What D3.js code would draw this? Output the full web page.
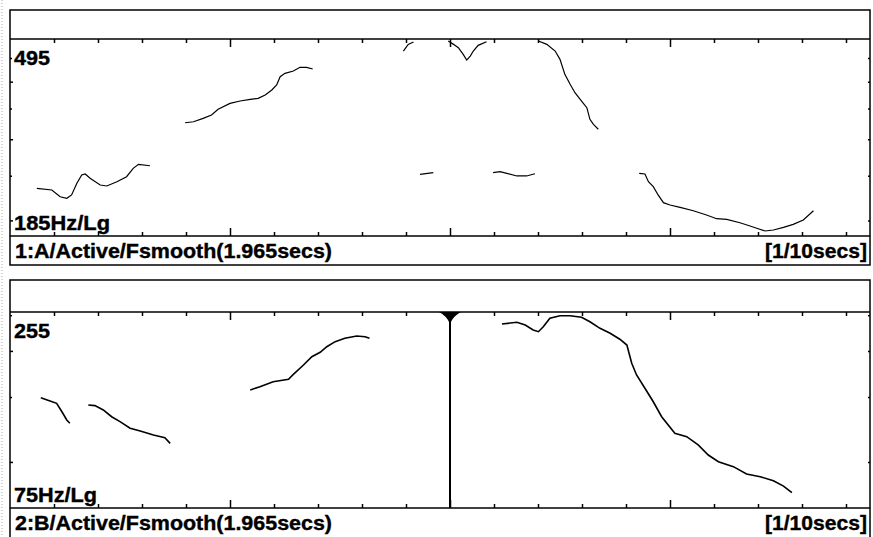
<!DOCTYPE html>
<html>
<head>
<meta charset="utf-8">
<script src="https://cdnjs.cloudflare.com/ajax/libs/d3/7.8.5/d3.min.js"></script>
<style>
body{margin:0;background:#fff;}
text{font-family:"Liberation Sans",Arial,sans-serif;font-weight:bold;fill:#000;stroke:#000;stroke-width:0.4;}
</style>
</head>
<body>
<svg id="my-svg"></svg>
<script>
// pitch tracks: [time in secs, Hz]
let duration = 1.965;
let timeTicks = [0.1,0.2,0.3,0.4,0.5,0.6,0.7,0.8,0.9,1.0,1.1,1.2,1.3,1.4,1.5,1.6,1.7,1.8,1.9];
let timeMajor = [0.5, 1.0, 1.5];
let cursorTime = 1.0;

let hzTicksA = [200, 250, 300, 350, 400, 450];
let hzTicksB = [100, 150, 200, 250];

let trackA1 = [[0.061,234.8],[0.095,232.8],[0.114,225.1],[0.129,223.3],[0.140,227.1],[0.152,240.7],[0.163,250.9],[0.171,252.2],[0.182,246.8],[0.205,238.7],[0.220,237.5],[0.243,242.6],[0.265,248.8],[0.280,259.4],[0.292,264.7],[0.318,262.8]];
let trackA2 = [[0.398,325.8],[0.417,327.4],[0.439,333.0],[0.458,338.6],[0.473,348.4],[0.500,358.9],[0.523,363.1],[0.546,366.2],[0.564,368.0],[0.580,374.2],[0.595,383.6],[0.606,393.3],[0.614,409.9],[0.625,417.0],[0.644,421.8],[0.659,429.7],[0.674,429.7],[0.688,426.1]];
let trackA3 = [[0.894,466.1],[0.905,481.9],[0.917,487.5]];
let trackA4 = [[0.996,490.0],[1.008,481.9],[1.019,473.9],[1.030,458.5],[1.038,445.6],[1.046,454.6],[1.053,466.1],[1.064,479.6],[1.083,488.3]];
let trackA5 = [[1.201,490.0],[1.220,481.9],[1.239,466.1],[1.250,447.2],[1.261,414.9],[1.273,394.7],[1.284,378.5],[1.299,363.1],[1.311,351.2],[1.318,331.4],[1.326,323.2],[1.337,315.3]];
let trackA6 = [[0.932,251.8],[0.962,253.8]];
let trackA7 = [[1.098,253.8],[1.114,255.1],[1.129,253.0],[1.152,249.7],[1.174,249.7],[1.193,252.5]];
let trackA8 = [[1.430,253.0],[1.443,252.2],[1.451,242.6],[1.462,236.7],[1.473,227.1],[1.485,218.5],[1.500,216.0],[1.523,213.5],[1.553,209.9],[1.583,205.5],[1.606,201.7],[1.629,201.1],[1.659,197.7],[1.682,194.5],[1.697,192.3],[1.716,189.7],[1.735,190.6],[1.758,193.2],[1.780,196.1],[1.803,200.4],[1.826,209.9]];

let trackB1 = [[0.070,149.3],[0.091,146.3],[0.106,144.2],[0.118,136.8],[0.129,129.9],[0.136,127.3]];
let trackB2 = [[0.178,142.7],[0.193,142.1],[0.212,138.3],[0.231,132.6],[0.250,128.6],[0.273,123.4],[0.296,121.3],[0.326,118.3],[0.352,116.3],[0.364,112.3]];
let trackB3 = [[0.546,156.7],[0.568,160.0],[0.598,165.0],[0.633,167.5],[0.644,172.8],[0.667,183.2],[0.686,192.9],[0.705,198.3],[0.720,205.3],[0.739,211.9],[0.761,216.4],[0.788,219.5],[0.807,218.6],[0.817,216.4]];
let trackB4 = [[1.118,236.6],[1.152,239.1],[1.171,235.1],[1.189,227.9],[1.201,225.5],[1.212,232.6],[1.227,245.2],[1.250,249.2],[1.273,249.2],[1.299,246.7],[1.318,240.0],[1.341,230.3],[1.364,223.3],[1.386,215.1],[1.402,207.5],[1.413,185.1],[1.424,172.1],[1.443,158.4],[1.462,145.6],[1.481,132.6],[1.511,119.6],[1.538,117.1],[1.564,111.2],[1.587,104.4],[1.610,100.1],[1.644,97.1],[1.674,92.7],[1.705,91.2],[1.735,88.9],[1.758,86.0],[1.777,82.5]];

let panels = [
    {id:'A', lo:185, hi:495, hzTicks:hzTicksA, tracks:[trackA1,trackA2,trackA3,trackA4,trackA5,trackA6,trackA7,trackA8],
     title:'1:A/Active/Fsmooth(1.965secs)', top:10, plotTop:39, plotBottom:236, bandBottom:265, lw:1.2},
    {id:'B', lo:75, hi:255, hzTicks:hzTicksB, tracks:[trackB1,trackB2,trackB3,trackB4],
     title:'2:B/Active/Fsmooth(1.965secs)', top:280, plotTop:312, plotBottom:508, bandBottom:552, lw:1.6}
];

let oSvg = d3.select("#my-svg")
      .attr('height', 537)
      .attr('width', 873);

let xLeft = 10, xRight = 870;
let x = d3.scaleLinear().domain([0, duration]).range([xLeft, xLeft + duration * 440]);

// faint dotted edge on the far left
oSvg.append('line')
    .attr('x1', 2).attr('x2', 2).attr('y1', 0).attr('y2', 537)
    .attr('stroke', '#aaa').attr('stroke-dasharray', '1,2');

function drawPanel(p){
    let g = oSvg.append('g').attr('class', 'panel' + p.id);
    let y = d3.scaleLog().domain([p.lo, p.hi]).range([p.plotBottom, p.plotTop]);

    g.append('rect')
        .attr('x', xLeft).attr('y', p.top)
        .attr('width', xRight - xLeft).attr('height', p.bandBottom - p.top)
        .attr('fill', 'none').attr('stroke', '#000').attr('stroke-width', 1.5);

    [p.plotTop, p.plotBottom].forEach(yy => {
        g.append('line')
            .attr('x1', xLeft).attr('x2', xRight).attr('y1', yy).attr('y2', yy)
            .attr('stroke', '#000').attr('stroke-width', 1.5);
    });

    // time ticks, pointing inward from top and bottom
    let topAxis = g.append('g').attr('transform', 'translate(0,' + p.plotTop + ')')
        .call(d3.axisBottom(x).tickValues(timeTicks).tickSize(4).tickFormat(''));
    let botAxis = g.append('g').attr('transform', 'translate(0,' + p.plotBottom + ')')
        .call(d3.axisTop(x).tickValues(timeTicks).tickSize(4).tickFormat(''));
    topAxis.selectAll('.tick line').filter(d => timeMajor.includes(d)).attr('y2', 8);
    botAxis.selectAll('.tick line').filter(d => timeMajor.includes(d)).attr('y2', -8);

    // Hz ticks on both sides
    let leftAxis = g.append('g').attr('transform', 'translate(' + xLeft + ',0)')
        .call(d3.axisRight(y).tickValues(p.hzTicks).tickSize(3).tickFormat(''));
    let rightAxis = g.append('g').attr('transform', 'translate(' + xRight + ',0)')
        .call(d3.axisLeft(y).tickValues(p.hzTicks).tickSize(2).tickFormat(''));
    leftAxis.selectAll('.tick line').filter(d => d % 100 != 0).attr('x2', 2);

    [topAxis, botAxis, leftAxis, rightAxis].forEach(a => {
        a.select('.domain').remove();
        a.selectAll('.tick line').attr('stroke', '#000').attr('stroke-width', 1.5);
    });

    g.append('clipPath').attr('id', 'clip' + p.id)
        .append('rect')
        .attr('x', xLeft).attr('y', p.plotTop)
        .attr('width', xRight - xLeft).attr('height', p.plotBottom - p.plotTop);

    let line = d3.line().x(d => x(d[0])).y(d => y(d[1]));

    g.append('g').attr('clip-path', 'url(#clip' + p.id + ')')
        .selectAll('path')
        .data(p.tracks)
        .enter().append('path')
            .attr('d', line)
            .attr('fill', 'none')
            .attr('stroke', '#000')
            .attr('stroke-width', p.lw);

    g.append('text').text(p.hi)
        .attr('x', 14).attr('y', p.plotTop + 26)
        .attr('font-size', 21).attr('textLength', 36).attr('lengthAdjust', 'spacingAndGlyphs');
    g.append('text').text(p.lo + 'Hz/Lg')
        .attr('x', 14).attr('y', p.plotBottom - 6)
        .attr('font-size', 21).attr('textLength', p.lo >= 100 ? 96 : 83).attr('lengthAdjust', 'spacingAndGlyphs');
    g.append('text').text(p.title)
        .attr('x', 15).attr('y', p.plotBottom + 22)
        .attr('font-size', 21).attr('textLength', 317).attr('lengthAdjust', 'spacingAndGlyphs');
    g.append('text').text('[1/10secs]')
        .attr('x', 867).attr('y', p.plotBottom + 22)
        .attr('text-anchor', 'end')
        .attr('font-size', 21).attr('textLength', 102).attr('lengthAdjust', 'spacingAndGlyphs');

    return y;
}

panels.forEach(drawPanel);

// cursor in the lower panel
let pB = panels[1];
let cx = x(cursorTime);
oSvg.append('line')
    .attr('x1', cx).attr('x2', cx).attr('y1', pB.plotTop).attr('y2', pB.plotBottom)
    .attr('stroke', '#000').attr('stroke-width', 2);
oSvg.append('path')
    .attr('d', 'M' + (cx - 11) + ',' + pB.plotTop + ' Q' + (cx - 3) + ',' + (pB.plotTop + 4) + ' ' + cx + ',' + (pB.plotTop + 12)
             + ' Q' + (cx + 3) + ',' + (pB.plotTop + 4) + ' ' + (cx + 11) + ',' + pB.plotTop + 'Z')
    .attr('fill', '#000');
</script>
</body>
</html>
